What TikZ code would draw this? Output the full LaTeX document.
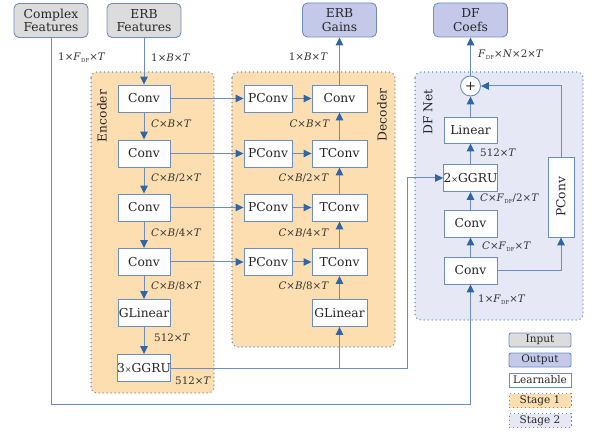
\documentclass[tikz,border=0pt]{standalone}
\usepackage{fontspec}
\setmainfont{DejaVu Serif}
\usetikzlibrary{arrows.meta}
\definecolor{lncol}{HTML}{6C8EBF}
\definecolor{ahcol}{HTML}{2F66A6}
\definecolor{inp}{HTML}{DCDCDC}
\definecolor{outp}{HTML}{C4C9EA}
\definecolor{st1}{HTML}{FDDEB0}
\definecolor{st2}{HTML}{E6E8F5}
\definecolor{txt}{HTML}{262626}
\newcommand\Fdf{\textit{F}\kern0.3bp\raisebox{-1.8bp}{\fontsize{5.5bp}{6bp}\selectfont DF}}
\newcommand\smx{{\fontsize{8bp}{8bp}\selectfont ×}}
\begin{document}
\begin{tikzpicture}[x=1bp,y=-1bp,
 every node/.style={font=\fontsize{12.3bp}{13.5bp}\selectfont, inner sep=0pt, text=txt},
 blk/.style={draw=lncol, fill=white, line width=0.9bp, minimum width=52bp, minimum height=27bp},
 io/.style={draw=lncol, line width=0.9bp, rounded corners=5bp, minimum width=74bp, minimum height=34bp, align=center},
 stage/.style={draw=lncol, line width=1.1bp, dash pattern=on 1.1bp off 2.9bp, rounded corners=6bp},
 lab/.style={font=\fontsize{10.3bp}{12bp}\selectfont, text=black!80},
 arr/.style={draw=lncol, line width=1bp, -{Triangle[length=8bp,width=7.5bp,color=ahcol]}},
 wire/.style={draw=lncol, line width=1bp},
 leg/.style={draw=lncol, line width=0.9bp, minimum width=62bp, minimum height=14bp, font=\fontsize{10.5bp}{12bp}\selectfont}
]
\useasboundingbox (0,0) rectangle (598,435);
% containers
\draw[stage, fill=st1] (91,72) rectangle (214,393);
\draw[stage, fill=st1] (232,72) rectangle (395,347);
\draw[stage, fill=st2] (415,72) rectangle (583,320);
\node (encl) at (102,116) {\rotatebox{90}{Encoder}};
\node (decl) at (382,115) {\rotatebox{90}{Decoder}};
\node (dfl) at (428,112) {\rotatebox{90}{DF Net}};
% io nodes
\node[io, fill=inp] (cf) at (51,20.5) {Complex\\Features};
\node[io, fill=inp] (ef) at (144,20.5) {ERB\\Features};
\node[io, fill=outp] (eg) at (339.5,20) {ERB\\Gains};
\node[io, fill=outp] (dc) at (470.5,20) {DF\\Coefs};
% encoder
\node[blk] (e1) at (144,98.5) {Conv};
\node[blk] (e2) at (144,153.5) {Conv};
\node[blk] (e3) at (144,207.5) {Conv};
\node[blk] (e4) at (144,262) {Conv};
\node[blk] (egl) at (144,313) {GLinear};
\node[blk] (egr) at (144,368) {3\smx GGRU};
% decoder
\node[blk, minimum width=48bp] (p1) at (268,98.5) {PConv};
\node[blk, minimum width=48bp] (p2) at (268,153.5) {PConv};
\node[blk, minimum width=48bp] (p3) at (268,207.5) {PConv};
\node[blk, minimum width=48bp] (p4) at (268,262) {PConv};
\node[blk, minimum width=55bp] (d1) at (339.5,98.5) {Conv};
\node[blk, minimum width=55bp] (d2) at (339.5,153.5) {TConv};
\node[blk, minimum width=55bp] (d3) at (339.5,207.5) {TConv};
\node[blk, minimum width=55bp] (d4) at (339.5,262) {TConv};
\node[blk, minimum width=55bp] (dgl) at (339.5,313) {GLinear};
% DF net
\node[circle, draw=lncol, fill=white, line width=0.9bp, minimum size=20bp, font=\fontsize{13bp}{13bp}\selectfont] (plus) at (470.5,86) {+};
\node[blk, minimum width=53bp, minimum height=26bp] (lin) at (470.5,130) {Linear};
\node[blk, minimum width=53bp] (g2) at (470.5,178) {2\smx GGRU};
\node[blk, minimum width=53bp] (c2) at (470.5,223.5) {Conv};
\node[blk, minimum width=53bp] (c1) at (470.5,270.5) {Conv};
\node[blk, minimum width=26bp, minimum height=80bp] (pc) at (561,197) {\rotatebox{90}{PConv}};
% encoder arrows
\draw[arr] (ef) -- (e1);
\draw[arr] (e1) -- (e2);
\draw[arr] (e2) -- (e3);
\draw[arr] (e3) -- (e4);
\draw[arr] (e4) -- (egl);
\draw[arr] (egl) -- (egr);
% skip
\draw[arr] (e1) -- (p1);
\draw[arr] (e2) -- (p2);
\draw[arr] (e3) -- (p3);
\draw[arr] (e4) -- (p4);
\draw[arr] (p1) -- (d1);
\draw[arr] (p2) -- (d2);
\draw[arr] (p3) -- (d3);
\draw[arr] (p4) -- (d4);
% decoder up
\draw[arr] (dgl) -- (d4);
\draw[arr] (d4) -- (d3);
\draw[arr] (d3) -- (d2);
\draw[arr] (d2) -- (d1);
\draw[arr] (d1) -- (eg);
% GGRU output
\coordinate (k) at (407,368);
\draw[arr] (egr.east) -- (k) |- (g2.west);
\draw[arr] (dgl.south |- egr.east) -- (dgl.south);
% complex features
\coordinate (cc) at (51,404);
\draw[arr] (cf.south) -- (cc) -| (c1.south);
% DF arrows
\draw[arr] (c1) -- (c2);
\draw[arr] (c2) -- (g2);
\draw[arr] (g2) -- (lin);
\draw[arr] (lin) -- (plus);
\draw[arr] (plus) -- (dc);
\draw[arr] (c1.east) -| (pc.south);
\draw[arr] (pc.north) |- (plus.east);
% labels
\node[lab, anchor=west] (t1) at (58,58) {1×\Fdf×\textit{T}};
\node[lab, anchor=west] (t2) at (151,58) {1×\textit{B}×\textit{T}};
\node[lab, anchor=west] (t3) at (151,124) {\textit{C}×\textit{B}×\textit{T}};
\node[lab, anchor=west] (t4) at (151,178) {\textit{C}×\textit{B}/2×\textit{T}};
\node[lab, anchor=west] (t5) at (151,233) {\textit{C}×\textit{B}/4×\textit{T}};
\node[lab, anchor=west] (t6) at (151,286) {\textit{C}×\textit{B}/8×\textit{T}};
\node[lab, anchor=west] (t7) at (154,338) {512×\textit{T}};
\node[lab, anchor=west] (t8) at (175,381) {512×\textit{T}};
\node[lab, anchor=east] (t9) at (328,57) {1×\textit{B}×\textit{T}};
\node[lab, anchor=east] (t10) at (330,124) {\textit{C}×\textit{B}×\textit{T}};
\node[lab, anchor=east] (t11) at (329,178) {\textit{C}×\textit{B}/2×\textit{T}};
\node[lab, anchor=east] (t12) at (329,233) {\textit{C}×\textit{B}/4×\textit{T}};
\node[lab, anchor=east] (t13) at (329,286) {\textit{C}×\textit{B}/8×\textit{T}};
\node[lab, anchor=west] (t14) at (478,55) {\Fdf×\textit{N}×2×\textit{T}};
\node[lab, anchor=west] (t15) at (480,153) {512×\textit{T}};
\node[lab, anchor=west] (t16) at (480,199) {\textit{C}×\Fdf/2×\textit{T}};
\node[lab, anchor=west] (t17) at (482,247) {\textit{C}×\Fdf×\textit{T}};
\node[lab, anchor=west] (t18) at (478,300) {1×\Fdf×\textit{T}};
% legend
\node[leg, fill=inp, rounded corners=2bp] (l1) at (540,340) {Input};
\node[leg, fill=outp, rounded corners=2bp] (l2) at (540,360) {Output};
\node[leg, fill=white] (l3) at (540,380) {Learnable};
\node[leg, fill=st1, dash pattern=on 1.1bp off 2.9bp] (l4) at (540,400.5) {Stage 1};
\node[leg, fill=st2, dash pattern=on 1.1bp off 2.9bp] (l5) at (540,420.5) {Stage 2};
\end{tikzpicture}
\end{document}
